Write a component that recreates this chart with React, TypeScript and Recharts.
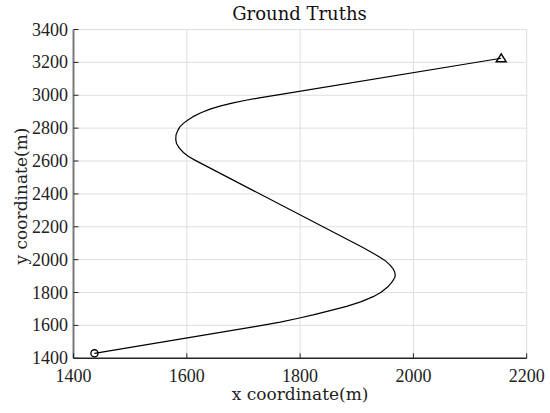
import React from 'react';
import { LineChart, Line, XAxis, YAxis, CartesianGrid } from 'recharts';

const trackX = [
    1437, 1720, 1765, 1795, 1823, 1853, 1882, 1907, 1929, 1943, 1955, 1963, 1967, 1968, 1967, 1964, 1958, 1949, 1938,
    1925, 1910, 1615, 1603, 1594, 1587, 1582, 1580.5, 1581, 1584, 1588, 1595, 1602, 1611, 1625, 1641, 1660, 1680, 1702,
    1728, 1758, 2155,
];
const trackY = [
    1430, 1593, 1620, 1642, 1664, 1690, 1716, 1743, 1775, 1802, 1835, 1868, 1890, 1905, 1925, 1945, 1970, 1997, 2021,
    2047, 2075, 2604, 2628, 2652, 2678, 2705, 2730, 2760, 2785, 2809, 2832, 2850, 2870, 2894, 2916, 2935, 2952, 2968,
    2984, 3001, 3225,
];

const xTicks = [1400, 1600, 1800, 2000, 2200];
const yTicks = [1400, 1600, 1800, 2000, 2200, 2400, 2600, 2800, 3000, 3200, 3400];

const data = trackX.map((x, i) => ({ x, y: trackY[i] }));

const tickFont = '"Liberation Serif", serif';
const labelFont = '"DejaVu Serif", serif';

function XTick(props: any) {
    const { x, y, payload } = props;
    return (
        <g>
            <line x1={x} x2={x} y1={y} y2={y - 5} stroke="#262626" strokeWidth={1} />
            <text x={x} y={y + 23.5} textAnchor="middle" fontFamily={tickFont} fontSize={18} fill="#222">
                {payload.value}
            </text>
        </g>
    );
}

function YTick(props: any) {
    const { x, y, payload } = props;
    return (
        <g>
            <line x1={x} x2={x + 5} y1={y} y2={y} stroke="#262626" strokeWidth={1} />
            <text x={x - 5.5} y={y + 6} textAnchor="end" fontFamily={tickFont} fontSize={18} fill="#222">
                {payload.value}
            </text>
        </g>
    );
}

function TrackDot(props: any) {
    const { cx, cy, index } = props;
    if (index === 0) {
        return <circle key="start" cx={cx} cy={cy} r={3.6} fill="none" stroke="#000" strokeWidth={1.3} />;
    }
    if (index === data.length - 1) {
        const pts = `${cx},${cy - 4.5} ${cx - 5},${cy + 3.5} ${cx + 5},${cy + 3.5}`;
        return <polygon key="end" points={pts} fill="none" stroke="#000" strokeWidth={1.4} />;
    }
    return <g key={`d${index}`} />;
}

export default function App() {
    return (
        <div style={{ position: 'absolute', left: 0, top: 0, background: '#fff' }}>
            <LineChart width={550} height={413} data={data} margin={{ top: 29.5, right: 23.3, bottom: 0, left: 0 }}>
                <CartesianGrid stroke="#dedede" strokeWidth={1} />
                <XAxis
                    dataKey="x"
                    type="number"
                    domain={[1400, 2200]}
                    ticks={xTicks}
                    height={54.7}
                    tickSize={0}
                    tickMargin={0}
                    tick={<XTick />}
                    axisLine={{ stroke: '#262626', strokeWidth: 1.5 }}
                    label={{
                        value: 'x coordinate(m)',
                        position: 'insideBottom',
                        offset: 13,
                        style: { fontFamily: labelFont, fontSize: 17, fill: '#222' },
                    }}
                />
                <YAxis
                    dataKey="y"
                    type="number"
                    domain={[1400, 3400]}
                    ticks={yTicks}
                    width={73.5}
                    tickSize={0}
                    tickMargin={0}
                    tick={<YTick />}
                    axisLine={{ stroke: '#7a7a7a', strokeWidth: 2 }}
                />
                <Line
                    type="linear"
                    dataKey="y"
                    stroke="#000"
                    strokeWidth={1.2}
                    strokeLinejoin="round"
                    dot={TrackDot}
                    activeDot={false}
                    isAnimationActive={false}
                />
                <text x={299.5} y={20} textAnchor="middle" fontFamily={labelFont} fontSize={18} fill="#111">
                    Ground Truths
                </text>
                <text
                    x={27}
                    y={196}
                    transform="rotate(-90 27 196)"
                    textAnchor="middle"
                    fontFamily={labelFont}
                    fontSize={17}
                    fill="#222"
                >
                    y coordinate(m)
                </text>
            </LineChart>
        </div>
    );
}
